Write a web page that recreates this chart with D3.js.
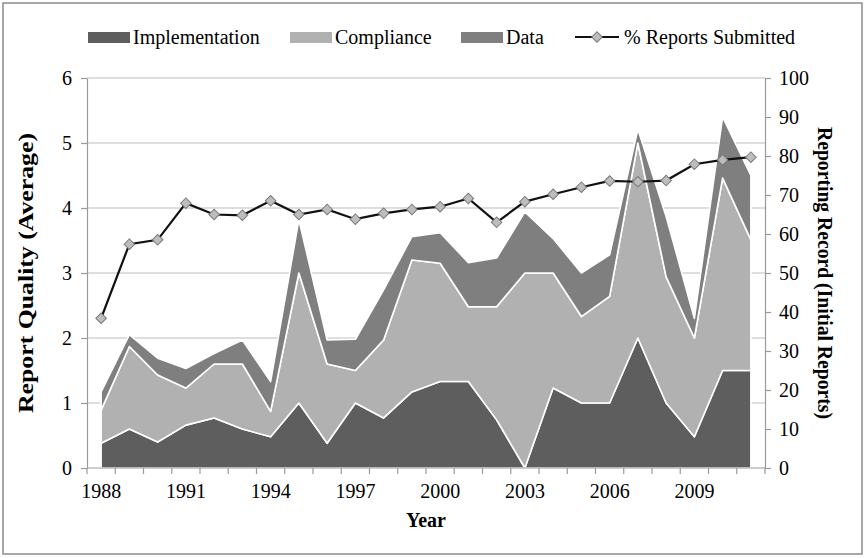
<!DOCTYPE html>
<html>
<head>
<meta charset="utf-8">
<script src="https://cdn.jsdelivr.net/npm/d3@7"></script>
<style>
body{margin:0;background:#fff;}
text{font-family:"Liberation Serif","Times New Roman",serif;fill:#000;}
</style>
</head>
<body>
<div id="chart"></div>
<script>
// values
var years=[1988,1989,1990,1991,1992,1993,1994,1995,1996,1997,1998,1999,2000,2001,2002,2003,2004,2005,2006,2007,2008,2009,2010,2011];
var implementation=[0.38,0.60,0.40,0.66,0.77,0.60,0.48,1.00,0.38,1.00,0.77,1.17,1.33,1.33,0.74,0.00,1.23,1.00,1.00,2.00,1.00,0.48,1.50,1.50];
var compliance=[0.51,1.27,1.03,0.57,0.83,1.00,0.39,2.00,1.22,0.50,1.20,2.03,1.82,1.15,1.74,3.00,1.77,1.33,1.64,3.00,1.94,1.52,2.96,2.01];
var dataScore=[0.28,0.18,0.26,0.30,0.16,0.37,0.46,0.82,0.37,0.48,0.77,0.36,0.47,0.68,0.75,0.94,0.53,0.67,0.64,0.21,0.93,0.30,0.94,0.99];
var reportsSubmitted=[38.4,57.4,58.5,67.9,65.0,64.8,68.5,65.0,66.3,63.8,65.3,66.3,67.0,69.1,63.0,68.3,70.2,72.0,73.6,73.4,73.7,77.9,79.0,79.7];
var leftTicks=[0,1,2,3,4,5,6];
var rightTicks=[0,10,20,30,40,50,60,70,80,90,100];
var yearLabels=[1988,1991,1994,1997,2000,2003,2006,2009];
var seriesNames=["Implementation","Compliance","Data"];
var seriesColors=["#5e5e5e","#b1b1b1","#7f7f7f"];

var drawChart=function()
{
  var width=866;
  var height=558;
  var left=87,right=765,top=78,bottom=468;

  var svg=d3.select("#chart").append("svg")
            .attr("width",width)
            .attr("height",height);

  svg.append("rect")
     .attr("x",3).attr("y",3)
     .attr("width",width-7).attr("height",height-7)
     .attr("fill","#fff")
     .attr("stroke","#8c8c8c")
     .attr("stroke-width",1.5);

  var x=d3.scalePoint().domain(years).range([left,right]).padding(0.5);
  var band=d3.scaleBand().domain(years).range([left,right]);
  var yL=d3.scaleLinear().domain([0,6]).range([bottom,top]);
  var yR=d3.scaleLinear().domain([0,100]).range([bottom,top]);

  // gridlines
  svg.selectAll(".grid")
     .data(leftTicks.slice(1))
     .enter()
     .append("line")
     .attr("x1",left).attr("x2",right)
     .attr("y1",function(d){ return yL(d); })
     .attr("y2",function(d){ return yL(d); })
     .attr("stroke","#bdbdbd")
     .attr("stroke-width",1.2);

  var rows=years.map(function(y,i){
    return {year:y,Implementation:implementation[i],Compliance:compliance[i],Data:dataScore[i]};
  });
  var stack=d3.stack().keys(seriesNames)(rows);
  var area=d3.area()
             .x(function(d){ return x(d.data.year); })
             .y0(function(d){ return yL(d[0]); })
             .y1(function(d){ return yL(d[1]); });

  svg.selectAll(".layer")
     .data(stack)
     .enter()
     .append("path")
     .attr("d",area)
     .attr("fill",function(d,i){ return seriesColors[i]; })
     .attr("stroke","#fff")
     .attr("stroke-width",1.6)
     .attr("stroke-linejoin","round");

  // left axis
  var gL=svg.append("g")
            .attr("transform","translate("+left+",0)")
            .call(d3.axisLeft(yL).tickValues(leftTicks).tickFormat(d3.format("d")).tickSize(6).tickSizeOuter(0).tickPadding(9));
  // right axis
  var gR=svg.append("g")
            .attr("transform","translate("+right+",0)")
            .call(d3.axisRight(yR).tickValues(rightTicks).tickFormat(d3.format("d")).tickSize(6).tickSizeOuter(0).tickPadding(8));
  [gL,gR].forEach(function(g){
    g.select(".domain").attr("stroke","#9a9a9a").attr("stroke-width",1.2);
    g.selectAll(".tick line").attr("stroke","#9a9a9a").attr("stroke-width",1.2);
    g.selectAll(".tick text")
     .attr("font-size",20)
     .attr("fill","#1a1a1a");
  });

  // x axis
  svg.append("line")
     .attr("x1",left).attr("x2",right)
     .attr("y1",bottom).attr("y2",bottom)
     .attr("stroke","#9a9a9a")
     .attr("stroke-width",1.2);
  svg.selectAll(".xtick")
     .data(years.concat(["end"]))
     .enter()
     .append("line")
     .attr("x1",function(d){ return d=="end" ? right : band(d); })
     .attr("x2",function(d){ return d=="end" ? right : band(d); })
     .attr("y1",bottom).attr("y2",bottom+6)
     .attr("stroke","#9a9a9a")
     .attr("stroke-width",1.2);
  svg.selectAll(".xlabel")
     .data(yearLabels)
     .enter()
     .append("text")
     .text(function(d){ return d; })
     .attr("x",function(d){ return x(d); })
     .attr("y",bottom+30)
     .attr("text-anchor","middle")
     .attr("font-size",20)
     .attr("fill","#1a1a1a");

  // % reports line
  var line=d3.line()
             .x(function(d,i){ return x(years[i]); })
             .y(function(d){ return yR(d); });
  svg.append("path")
     .datum(reportsSubmitted)
     .attr("d",line)
     .attr("fill","none")
     .attr("stroke","#111")
     .attr("stroke-width",2.2);
  var diamond=d3.symbol().type(d3.symbolSquare).size(56);
  svg.selectAll(".marker")
     .data(reportsSubmitted)
     .enter()
     .append("path")
     .attr("d",diamond)
     .attr("transform",function(d,i){
       return "translate("+x(years[i])+","+yR(d)+") rotate(45)";
     })
     .attr("fill","#bdbdbd")
     .attr("stroke","#7a7a7a")
     .attr("stroke-width",1);

  // axis titles
  svg.append("text")
     .text("Year")
     .attr("x",(left+right)/2)
     .attr("y",527)
     .attr("text-anchor","middle")
     .attr("font-size",20)
     .attr("font-weight","bold");
  svg.append("text")
     .text("Report Quality (Average)")
     .attr("transform","translate(33,273) rotate(-90)")
     .attr("text-anchor","middle")
     .attr("font-size",20)
     .attr("font-weight","bold")
     .attr("textLength",280)
     .attr("lengthAdjust","spacingAndGlyphs");
  svg.append("text")
     .text("Reporting Record (Initial Reports)")
     .attr("transform","translate(818,273) rotate(90)")
     .attr("text-anchor","middle")
     .attr("font-size",20)
     .attr("font-weight","bold")
     .attr("textLength",292)
     .attr("lengthAdjust","spacingAndGlyphs");

  // legend
  var legendX=[88,290,461];
  var legend=svg.append("g");
  legend.selectAll("rect")
        .data(seriesNames)
        .enter()
        .append("rect")
        .attr("x",function(d,i){ return legendX[i]; })
        .attr("y",32)
        .attr("width",42)
        .attr("height",11)
        .attr("fill",function(d,i){ return seriesColors[i]; });
  legend.selectAll("text")
        .data(seriesNames)
        .enter()
        .append("text")
        .text(function(d){ return d; })
        .attr("x",function(d,i){ return legendX[i]+45; })
        .attr("y",44)
        .attr("font-size",20)
        .attr("fill","#1a1a1a");
  legend.append("line")
        .attr("x1",575).attr("x2",619)
        .attr("y1",37).attr("y2",37)
        .attr("stroke","#111")
        .attr("stroke-width",2.2);
  legend.append("path")
        .attr("d",diamond)
        .attr("transform","translate(597,37) rotate(45)")
        .attr("fill","#bdbdbd")
        .attr("stroke","#7a7a7a");
  legend.append("text")
        .text("% Reports Submitted")
        .attr("x",624)
        .attr("y",44)
        .attr("font-size",20)
        .attr("fill","#1a1a1a");
};

drawChart();
</script>
</body>
</html>
